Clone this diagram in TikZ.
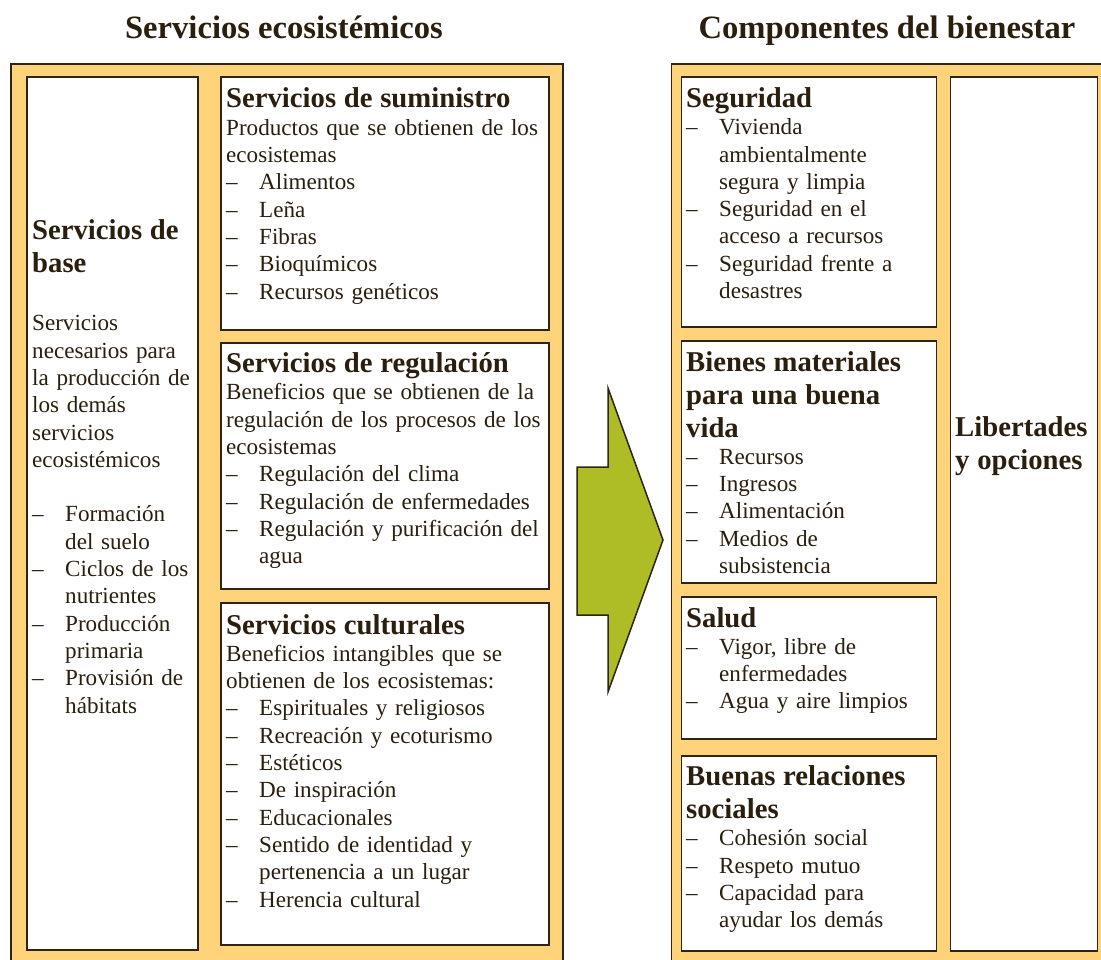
\documentclass[tikz,border=0pt]{standalone}
\usepackage{fontspec}
\setmainfont{Liberation Serif}

\definecolor{framefill}{RGB}{255,211,122}
\definecolor{edge}{RGB}{46,36,18}
\definecolor{ink}{RGB}{42,30,14}
\definecolor{arrowgreen}{RGB}{174,189,37}

\newcommand{\hd}[1]{{\fontsize{28.7}{33}\selectfont\bfseries #1\par}}
\newcommand{\itm}[1]{{\let\\\newline\hangindent=33pt\hangafter=1\noindent\makebox[33pt][l]{–}#1\par}}

\begin{document}
\begin{tikzpicture}[x=1pt, y=-1pt,
    frame/.style={draw=edge, line width=1.8pt, fill=framefill, anchor=north west, inner sep=0},
    box/.style={draw=edge, line width=1.8pt, fill=white, anchor=north west, inner sep=0},
    txt/.style={anchor=base west, inner sep=0pt, text width=360pt, text=ink, font=\fontsize{23.1}{27.3}\selectfont},
    title/.style={anchor=base, inner sep=0pt, text=ink, font=\fontsize{32.6}{36}\selectfont\bfseries}]
    \useasboundingbox (0,0) rectangle (1101,960);
    \node[title] (tserv) at (284,39) {Servicios ecosistémicos};
    \node[title] (tbien) at (887,39) {Componentes del bienestar};
    \node[frame, minimum width=552, minimum height=920] (lframe) at (10,63.5) {};
    \node[frame, minimum width=460, minimum height=920] (rframe) at (670.5,63.5) {};
    % servicios
    \node[box, minimum width=171, minimum height=873] (base) at (26,76) {};
    \node[box, minimum width=328, minimum height=253] (sumi) at (220,76) {};
    \node[box, minimum width=328, minimum height=246] (regu) at (220,342) {};
    \node[box, minimum width=328, minimum height=342] (cult) at (220,602) {};
    % bienestar
    \node[box, minimum width=255, minimum height=250] (segu) at (680.5,76) {};
    \node[box, minimum width=255, minimum height=242] (mate) at (680.5,340) {};
    \node[box, minimum width=255, minimum height=142] (salud) at (680.5,596) {};
    \node[box, minimum width=255, minimum height=195] (rela) at (680.5,755) {};
    \node[box, minimum width=147, minimum height=874] (liber) at (949.5,76) {};
    \draw[draw=edge, line width=1.5pt, fill=arrowgreen] (577,467) -- (608,467) -- (608,388) -- (663,540) -- (608,692) -- (608,615) -- (577,615) -- cycle;
    \node[txt] (tbase) at (32,240) {\hd{Servicios de\\base}
        \vspace{30.7pt}
        Servicios\\necesarios para\\la producción de\\los demás\\servicios\\ecosistémicos\par
        \vspace{27.2pt}
        \itm{Formación\\del suelo}
        \itm{Ciclos de los\\nutrientes}
        \itm{Producción\\primaria}
        \itm{Provisión de\\hábitats}};
    \node[txt] (tsumi) at (226,108) {\hd{Servicios de suministro}
        Productos que se obtienen de los\\ecosistemas\par
        \itm{Alimentos}
        \itm{Leña}
        \itm{Fibras}
        \itm{Bioquímicos}
        \itm{Recursos genéticos}};
    \node[txt] (tregu) at (226,372.5) {\hd{Servicios de regulación}
        Beneficios que se obtienen de la\\regulación de los procesos de los\\ecosistemas\par
        \itm{Regulación del clima}
        \itm{Regulación de enfermedades}
        \itm{Regulación y purificación del\\agua}};
    \node[txt] (tcult) at (226,634) {\hd{Servicios culturales}
        Beneficios intangibles que se\\obtienen de los ecosistemas:\par
        \itm{Espirituales y religiosos}
        \itm{Recreación y ecoturismo}
        \itm{Estéticos}
        \itm{De inspiración}
        \itm{Educacionales}
        \itm{Sentido de identidad y\\pertenencia a un lugar}
        \itm{Herencia cultural}};
    \node[txt] (tsegu) at (686,107.5) {\hd{Seguridad}
        \itm{Vivienda\\ambientalmente\\segura y limpia}
        \itm{Seguridad en el\\acceso a recursos}
        \itm{Seguridad frente a\\desastres}};
    \node[txt] (tmate) at (686,371) {\hd{Bienes materiales\\para una buena\\vida}
        \itm{Recursos}
        \itm{Ingresos}
        \itm{Alimentación}
        \itm{Medios de\\subsistencia}};
    \node[txt] (tsalud) at (686,627) {\hd{Salud}
        \itm{Vigor, libre de\\enfermedades}
        \itm{Agua y aire limpios}};
    \node[txt] (trela) at (686,785.5) {\hd{Buenas relaciones\\sociales}
        \itm{Cohesión social}
        \itm{Respeto mutuo}
        \itm{Capacidad para\\ayudar los demás}};
    \node[txt] (tliber) at (955,436.5) {\hd{Libertades\\y opciones}};
\end{tikzpicture}
\end{document}
